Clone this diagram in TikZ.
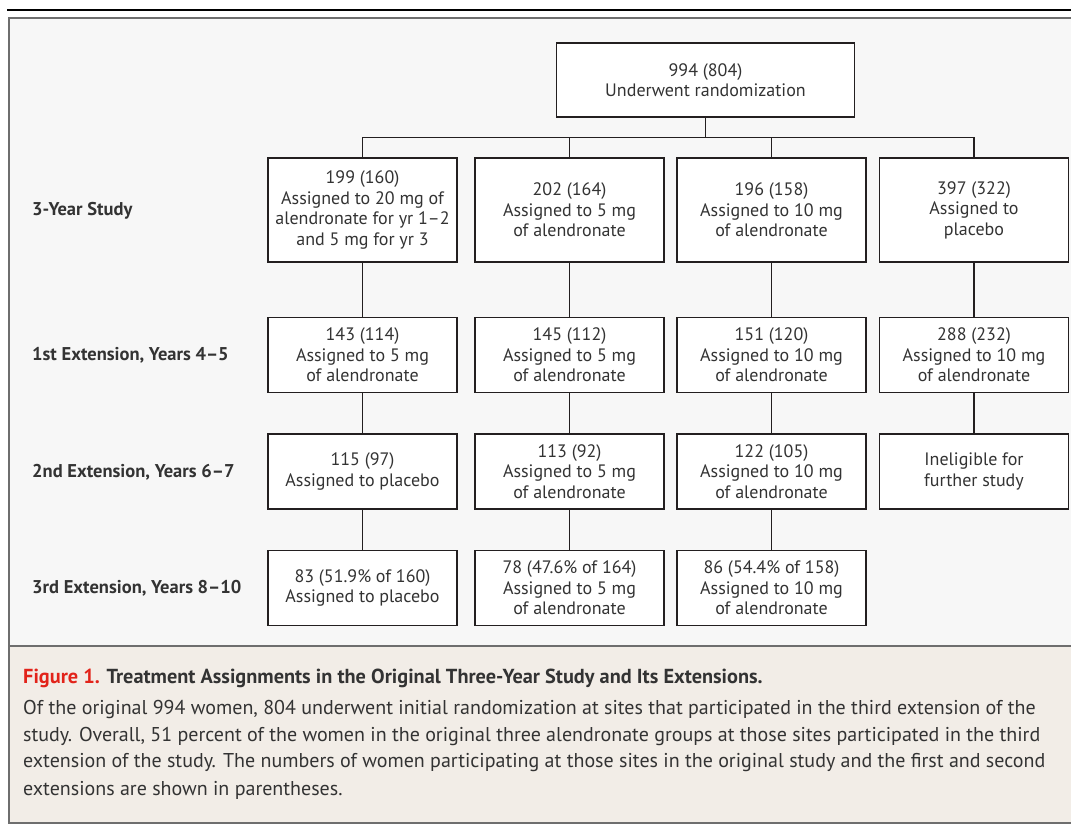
\documentclass[tikz,border=0pt]{standalone}
\usepackage{fontspec}
\setmainfont{PT Sans}
\usetikzlibrary{positioning,calc}
\definecolor{Ink}{HTML}{231F20}
\definecolor{Txt}{HTML}{333333}
\definecolor{Panel}{HTML}{F7F7F7}
\definecolor{CapPaper}{HTML}{F2EDE7}
\definecolor{Frame}{HTML}{6E6E6E}
\definecolor{FigRed}{HTML}{E2231A}
\tikzset{
  armbox/.style={draw=Ink,fill=white,line width=1.6pt,minimum width=189pt,minimum height=75pt,align=center,font=\fontsize{18}{20.5}\selectfont,text=Txt,inner sep=2pt},
  tallbox/.style={armbox,minimum height=104pt},
  phaselabel/.style={anchor=west,font=\fontsize{18.5}{20}\selectfont\bfseries,text=Txt,inner sep=0pt},
  capline/.style={anchor=west,font=\fontsize{20}{24}\selectfont,text=Txt,inner sep=0pt},
  link/.style={draw=Ink,line width=1.6pt}
}
\begin{document}
\begin{tikzpicture}[x=1pt,y=-1pt]
  \useasboundingbox (0,0) rectangle (1071,824);
  \clip (0,0) rectangle (1071,824);
  % frame and caption panel
  \draw[line width=2pt,black] (7,10) -- (1071,10);
  \draw[fill=Panel,draw=Frame,line width=2.4pt] (9,18) rectangle (1090,823);
  \draw[fill=CapPaper,draw=Frame,line width=2.4pt] (9,646) rectangle (1090,823);

  % phase labels
  \node[phaselabel] (lab0) at (32,211) {3-Year Study};
  \node[phaselabel] (lab1) at (32,355) {1st Extension, Years 4--5};
  \node[phaselabel] (lab2) at (32,472) {2nd Extension, Years 6--7};
  \node[phaselabel] (lab3) at (32,588) {3rd Extension, Years 8--10};

  % randomization
  \node[armbox,minimum width=298pt,minimum height=74pt] (rand) at (705.5,80) {994 (804)\\Underwent randomization};

  % 3-year study
  \node[tallbox] (a1) at (362.5,210) {199 (160)\\Assigned to 20 mg of\\alendronate for yr 1--2\\and 5 mg for yr 3};
  \node[tallbox] (a2) at (569.5,210) {202 (164)\\Assigned to 5 mg\\of alendronate};
  \node[tallbox] (a3) at (771.5,210) {196 (158)\\Assigned to 10 mg\\of alendronate};
  \node[tallbox] (a4) at (974,210) {397 (322)\\Assigned to\\placebo};

  % 1st extension
  \node[armbox] (b1) at (362.5,355) {143 (114)\\Assigned to 5 mg\\of alendronate};
  \node[armbox] (b2) at (569.5,355) {145 (112)\\Assigned to 5 mg\\of alendronate};
  \node[armbox] (b3) at (771.5,355) {151 (120)\\Assigned to 10 mg\\of alendronate};
  \node[armbox] (b4) at (974,355) {288 (232)\\Assigned to 10 mg\\of alendronate};

  % 2nd extension
  \node[armbox] (c1) at (362.5,471.5) {115 (97)\\Assigned to placebo};
  \node[armbox] (c2) at (569.5,471.5) {113 (92)\\Assigned to 5 mg\\of alendronate};
  \node[armbox] (c3) at (771.5,471.5) {122 (105)\\Assigned to 10 mg\\of alendronate};
  \node[armbox] (c4) at (974,471.5) {Ineligible for\\further study};

  % 3rd extension
  \node[armbox] (d1) at (362.5,588) {83 (51.9\% of 160)\\Assigned to placebo};
  \node[armbox] (d2) at (569.5,588) {78 (47.6\% of 164)\\Assigned to 5 mg\\of alendronate};
  \node[armbox] (d3) at (771.5,588) {86 (54.4\% of 158)\\Assigned to 10 mg\\of alendronate};

  % connectors
  \coordinate (bus) at ($(rand.south)!0.5!(rand.south |- a1.north)$);
  \draw[link] (rand.south) -- (bus);
  \draw[link] (a1.north) |- (bus) -| (a4.north);
  \draw[link] (a2.north) -- (a2.north |- bus);
  \draw[link] (a3.north) -- (a3.north |- bus);
  \draw[link] (a1) -- (b1) (b1) -- (c1) (c1) -- (d1);
  \draw[link] (a2) -- (b2) (b2) -- (c2) (c2) -- (d2);
  \draw[link] (a3) -- (b3) (b3) -- (c3) (c3) -- (d3);
  \draw[link] (a4) -- (b4) (b4) -- (c4);

  % caption
  \node[capline,font=\fontsize{20.3}{24}\selectfont\bfseries] (captitle) at (23,678) {\textcolor{FigRed}{Figure 1.} Treatment Assignments in the Original Three-Year Study and Its Extensions.};
  \node[capline] (cap1) at (23,709) {Of the original 994 women, 804 underwent initial randomization at sites that participated in the third extension of the};
  \node[capline] (cap2) at (23,736) {study. Overall, 51 percent of the women in the original three alendronate groups at those sites participated in the third};
  \node[capline] (cap3) at (23,763) {extension of the study. The numbers of women participating at those sites in the original study and the first and second};
  \node[capline] (cap4) at (23,790) {extensions are shown in parentheses.};
\end{tikzpicture}
\end{document}
